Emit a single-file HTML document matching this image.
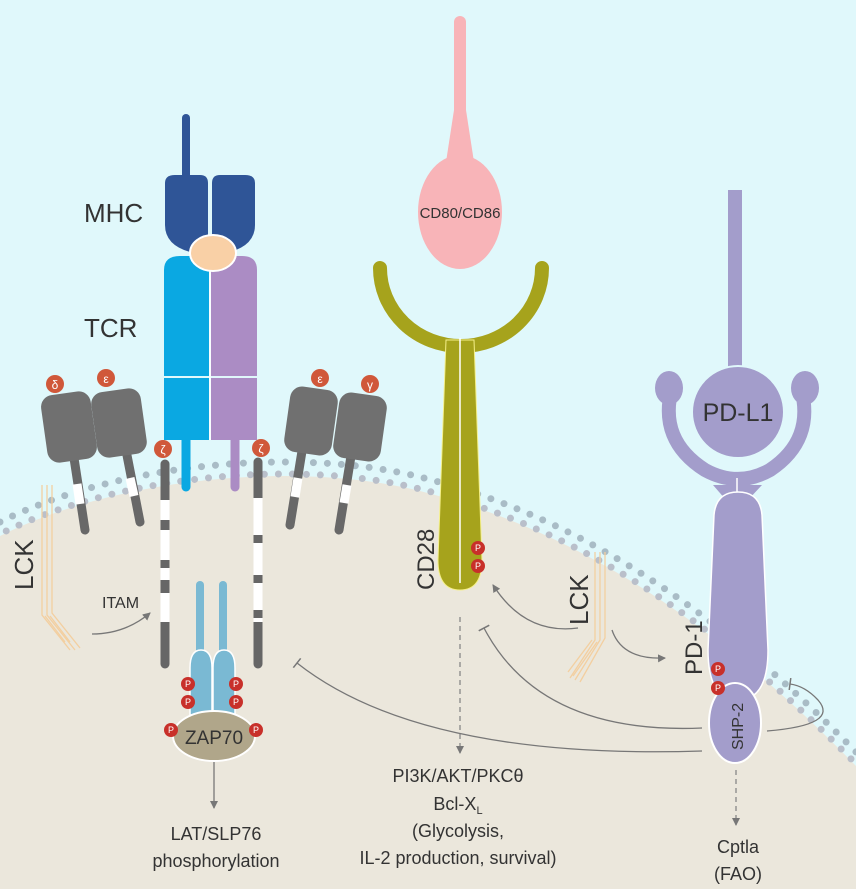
<!DOCTYPE html>
<html><head><meta charset="utf-8"><style>
html,body{margin:0;padding:0;background:#e0f8fb;}
svg{display:block}
text{font-family:"Liberation Sans","DejaVu Sans",sans-serif;fill:#333;}
</style></head><body>
<svg width="856" height="889" viewBox="0 0 856 889" xmlns="http://www.w3.org/2000/svg">
<defs>
<marker id="ar" markerWidth="10" markerHeight="10" refX="7" refY="5" orient="auto" markerUnits="userSpaceOnUse"><path d="M0,1 L8,5 L0,9 Z" fill="#777"/></marker>
<marker id="tb" markerWidth="10" markerHeight="12" refX="1" refY="6" orient="auto" markerUnits="userSpaceOnUse"><path d="M1,0 L1,12" stroke="#777" stroke-width="1.5"/></marker>
</defs>
<rect width="856" height="889" fill="#e0f8fb"/>
<path d="M0,536 C120,476 300,461 420,491 C560,526 700,606 856,766 L856,889 L0,889 Z" fill="#ebe7dc"/>
<path d="M0,522 C120,462 300,447 420,477 C560,512 700,592 856,752" fill="none" stroke="#a9bcc6" stroke-width="7" stroke-linecap="round" stroke-dasharray="0 14"/>
<path d="M0,534 C120,474 300,459 420,489 C560,524 700,604 856,764" fill="none" stroke="#b9bfca" stroke-width="7" stroke-linecap="round" stroke-dasharray="0 14" stroke-dashoffset="7"/>

<g>
<line x1="72" y1="445" x2="85" y2="530" stroke="#686868" stroke-width="9" stroke-linecap="round"/>
<line x1="77" y1="484" x2="80" y2="504" stroke="#fff" stroke-width="9"/>
<rect x="44" y="393" width="50" height="68" rx="12" fill="#707070" transform="rotate(-8 69 427)"/>
<line x1="125" y1="445" x2="140" y2="522" stroke="#686868" stroke-width="9" stroke-linecap="round"/>
<line x1="130" y1="478" x2="134" y2="496" stroke="#fff" stroke-width="9"/>
<rect x="94" y="390" width="50" height="66" rx="12" fill="#707070" transform="rotate(-8 119 423)"/>
<circle cx="55" cy="384" r="9" fill="#d0583a"/><text x="55" y="389" font-size="12" text-anchor="middle" style="fill:#fff">δ</text>
<circle cx="106" cy="378" r="9" fill="#d0583a"/><text x="106" y="383" font-size="12" text-anchor="middle" style="fill:#fff">ε</text>
</g>
<g>
<line x1="303" y1="445" x2="290" y2="525" stroke="#686868" stroke-width="9" stroke-linecap="round"/>
<line x1="298" y1="478" x2="295" y2="497" stroke="#fff" stroke-width="9"/>
<rect x="287" y="388" width="48" height="66" rx="12" fill="#707070" transform="rotate(8 311 421)"/>
<line x1="352" y1="450" x2="339" y2="530" stroke="#686868" stroke-width="9" stroke-linecap="round"/>
<line x1="347" y1="485" x2="344" y2="503" stroke="#fff" stroke-width="9"/>
<rect x="336" y="394" width="48" height="66" rx="12" fill="#707070" transform="rotate(8 360 427)"/>
<circle cx="320" cy="378" r="9" fill="#d0583a"/><text x="320" y="383" font-size="12" text-anchor="middle" style="fill:#fff">ε</text>
<circle cx="370" cy="384" r="9" fill="#d0583a"/><text x="370" y="389" font-size="12" text-anchor="middle" style="fill:#fff">γ</text>
</g>

<line x1="186" y1="118" x2="186" y2="175" stroke="#2f5597" stroke-width="8" stroke-linecap="round"/>
<path d="M165,183 Q165,175 175,175 L200,175 Q208,175 208,183 L208,252 L190,252 Q165,245 165,225 Z" fill="#2f5597"/>
<path d="M212,183 Q212,175 220,175 L245,175 Q255,175 255,183 L255,225 Q255,245 230,252 L212,252 Z" fill="#2f5597"/>
<path d="M164,270 Q164,256 180,256 L209,256 L209,440 L164,440 Z" fill="#0aa8e2"/>
<path d="M211,256 L242,256 Q257,256 257,270 L257,440 L211,440 Z" fill="#ab8cc4"/>
<line x1="164" y1="377" x2="257" y2="377" stroke="#e0f8fb" stroke-width="2"/>
<line x1="186" y1="440" x2="186" y2="487" stroke="#0aa8e2" stroke-width="9" stroke-linecap="round"/>
<line x1="235" y1="440" x2="235" y2="487" stroke="#ab8cc4" stroke-width="9" stroke-linecap="round"/>
<line x1="210" y1="256" x2="210" y2="440" stroke="#fff" stroke-width="1.5"/>
<ellipse cx="213" cy="253" rx="23" ry="18" fill="#f9d0a6" stroke="#fff" stroke-width="2"/>

<g>
<line x1="165" y1="464" x2="165" y2="664" stroke="#666" stroke-width="9" stroke-linecap="round"/>
<line x1="165" y1="500" x2="165" y2="520" stroke="#fff" stroke-width="9"/>
<line x1="165" y1="530" x2="165" y2="560" stroke="#fff" stroke-width="9"/>
<line x1="165" y1="568" x2="165" y2="580" stroke="#fff" stroke-width="9"/>
<line x1="165" y1="593" x2="165" y2="622" stroke="#fff" stroke-width="9"/>
<line x1="258" y1="462" x2="258" y2="664" stroke="#666" stroke-width="9" stroke-linecap="round"/>
<line x1="258" y1="498" x2="258" y2="535" stroke="#fff" stroke-width="9"/>
<line x1="258" y1="543" x2="258" y2="575" stroke="#fff" stroke-width="9"/>
<line x1="258" y1="583" x2="258" y2="610" stroke="#fff" stroke-width="9"/>
<line x1="258" y1="618" x2="258" y2="622" stroke="#fff" stroke-width="9"/>
</g>
<circle cx="163" cy="449" r="9" fill="#d0583a"/><text x="163" y="454" font-size="12" text-anchor="middle" style="fill:#fff">ζ</text>
<circle cx="261" cy="448" r="9" fill="#d0583a"/><text x="261" y="453" font-size="12" text-anchor="middle" style="fill:#fff">ζ</text>

<line x1="200" y1="585" x2="200" y2="660" stroke="#7ab9d3" stroke-width="8" stroke-linecap="round"/>
<line x1="223" y1="585" x2="223" y2="660" stroke="#7ab9d3" stroke-width="8" stroke-linecap="round"/>
<path d="M190,715 L190,668 Q190,650 201,650 Q212,650 212,668 L212,715 Z" fill="#7ab9d3" stroke="#fff" stroke-width="1.5"/>
<path d="M213,715 L213,668 Q213,650 224,650 Q235,650 235,668 L235,715 Z" fill="#7ab9d3" stroke="#fff" stroke-width="1.5"/>
<ellipse cx="214" cy="736" rx="41" ry="25" fill="#b0a68a" stroke="#fff" stroke-width="2"/>
<text x="214" y="744" font-size="19" text-anchor="middle">ZAP70</text>
<g font-size="9" text-anchor="middle">
<circle cx="188" cy="684" r="7" fill="#c8302a"/><text x="188" y="687" style="fill:#fff">P</text>
<circle cx="188" cy="702" r="7" fill="#c8302a"/><text x="188" y="705" style="fill:#fff">P</text>
<circle cx="236" cy="684" r="7" fill="#c8302a"/><text x="236" y="687" style="fill:#fff">P</text>
<circle cx="236" cy="702" r="7" fill="#c8302a"/><text x="236" y="705" style="fill:#fff">P</text>
<circle cx="171" cy="730" r="7" fill="#c8302a"/><text x="171" y="733" style="fill:#fff">P</text>
<circle cx="256" cy="730" r="7" fill="#c8302a"/><text x="256" y="733" style="fill:#fff">P</text>
</g>
<line x1="214" y1="762" x2="214" y2="808" stroke="#777" stroke-width="1.3" marker-end="url(#ar)"/>
<text x="216" y="840" font-size="18" text-anchor="middle">LAT/SLP76</text>
<text x="216" y="867" font-size="18" text-anchor="middle">phosphorylation</text>

<text x="84" y="222" font-size="26">MHC</text>
<text x="84" y="337" font-size="26">TCR</text>

<g fill="none" stroke="#f3cfa0" stroke-width="1.3">
<path d="M42,485 L42,615 L70,650"/><path d="M47,485 L47,615 L75,650"/><path d="M52,485 L52,613 L80,648"/>
<path d="M45,616 L65,642 M50,616 L70,642"/>
</g>
<text transform="translate(33,590) rotate(-90)" font-size="26">LCK</text>
<text x="102" y="608" font-size="16">ITAM</text>
<path d="M92,634 Q125,634 150,613" fill="none" stroke="#777" stroke-width="1.3" marker-end="url(#ar)"/>

<line x1="460" y1="22" x2="460" y2="160" stroke="#f8b4b8" stroke-width="12" stroke-linecap="round"/>
<path d="M454,110 L466,110 L474,162 L446,162 Z" fill="#f8b4b8"/>
<ellipse cx="460" cy="212" rx="42" ry="57" fill="#f8b4b8"/>
<text x="460" y="218" font-size="15" text-anchor="middle">CD80/CD86</text>

<path d="M380,268 A81,78 0 0 0 542,268" fill="none" stroke="#a6a31c" stroke-width="14" stroke-linecap="round"/>
<path d="M446,340 L474,340 L482,560 Q482,590 460,590 Q438,590 438,560 Z" fill="#a6a31c" stroke="#f5f08a" stroke-width="1"/>
<line x1="460" y1="338" x2="460" y2="583" stroke="#fff" stroke-width="1.5"/>
<g font-size="9" text-anchor="middle">
<circle cx="478" cy="548" r="7" fill="#c8302a"/><text x="478" y="551" style="fill:#fff">P</text>
<circle cx="478" cy="566" r="7" fill="#c8302a"/><text x="478" y="569" style="fill:#fff">P</text>
</g>
<text transform="translate(434,590) rotate(-90)" font-size="24">CD28</text>
<line x1="460" y1="617" x2="460" y2="753" stroke="#888" stroke-width="1.3" stroke-dasharray="5 4" marker-end="url(#ar)"/>
<g font-size="18" text-anchor="middle">
<text x="458" y="782">PI3K/AKT/PKCθ</text>
<text x="458" y="810">Bcl-X<tspan font-size="11" dy="4">L</tspan></text>
<text x="458" y="837">(Glycolysis,</text>
<text x="458" y="864">IL-2 production, survival)</text>
</g>

<g fill="none" stroke="#f3cfa0" stroke-width="1.3">
<path d="M595,552 L595,640 L570,678"/><path d="M600,552 L600,640 L575,680"/><path d="M605,552 L605,638 L580,682"/>
<path d="M592,640 L568,672 M597,642 L573,676"/>
</g>
<text transform="translate(588,625) rotate(-90)" font-size="26">LCK</text>
<path d="M578,628 Q525,635 493,585" fill="none" stroke="#777" stroke-width="1.3" marker-end="url(#ar)"/>
<path d="M612,630 Q622,660 665,658" fill="none" stroke="#777" stroke-width="1.3" marker-end="url(#ar)"/>

<line x1="735" y1="190" x2="735" y2="372" stroke="#a39dcb" stroke-width="14"/>
<path d="M672,388 Q658,440 705,470 Q738,488 770,470 Q815,440 801,388" fill="none" stroke="#a39dcb" stroke-width="14" stroke-linecap="round"/>
<ellipse cx="669" cy="388" rx="14" ry="17" fill="#a39dcb"/>
<ellipse cx="805" cy="388" rx="14" ry="17" fill="#a39dcb"/>
<circle cx="738" cy="412" r="46" fill="#a39dcb" stroke="#e0f8fb" stroke-width="2"/>
<text x="738" y="421" font-size="25" text-anchor="middle">PD-L1</text>
<path d="M713,485 L762,485 L748,500 L726,500 Z" fill="#a39dcb"/>
<line x1="737" y1="478" x2="737" y2="492" stroke="#fff" stroke-width="1.5"/>
<path d="M714,515 Q716,492 738,492 Q760,492 762,515 L768,650 Q768,700 738,700 Q708,700 708,650 Z" fill="#a39dcb" stroke="#fff" stroke-width="1.5"/>
<ellipse cx="735" cy="723" rx="26" ry="40" fill="#a39dcb" stroke="#fff" stroke-width="2"/>
<text transform="translate(743,750) rotate(-90)" font-size="16">SHP-2</text>
<text transform="translate(702,675) rotate(-90)" font-size="24">PD-1</text>
<g font-size="9" text-anchor="middle">
<circle cx="718" cy="669" r="7" fill="#c8302a"/><text x="718" y="672" style="fill:#fff">P</text>
<circle cx="718" cy="688" r="7" fill="#c8302a"/><text x="718" y="691" style="fill:#fff">P</text>
</g>
<line x1="736" y1="770" x2="736" y2="825" stroke="#888" stroke-width="1.3" stroke-dasharray="5 4" marker-end="url(#ar)"/>
<text x="738" y="853" font-size="18" text-anchor="middle">Cptla</text>
<text x="738" y="880" font-size="18" text-anchor="middle">(FAO)</text>

<path d="M702,751 Q420,760 297,663" fill="none" stroke="#777" stroke-width="1.3" marker-end="url(#tb)"/>
<path d="M702,728 Q540,735 484,628" fill="none" stroke="#777" stroke-width="1.3" marker-end="url(#tb)"/>
<path d="M767,731 Q840,725 818,700 Q805,686 790,684" fill="none" stroke="#777" stroke-width="1.3" marker-end="url(#tb)"/>
</svg>
</body></html>
